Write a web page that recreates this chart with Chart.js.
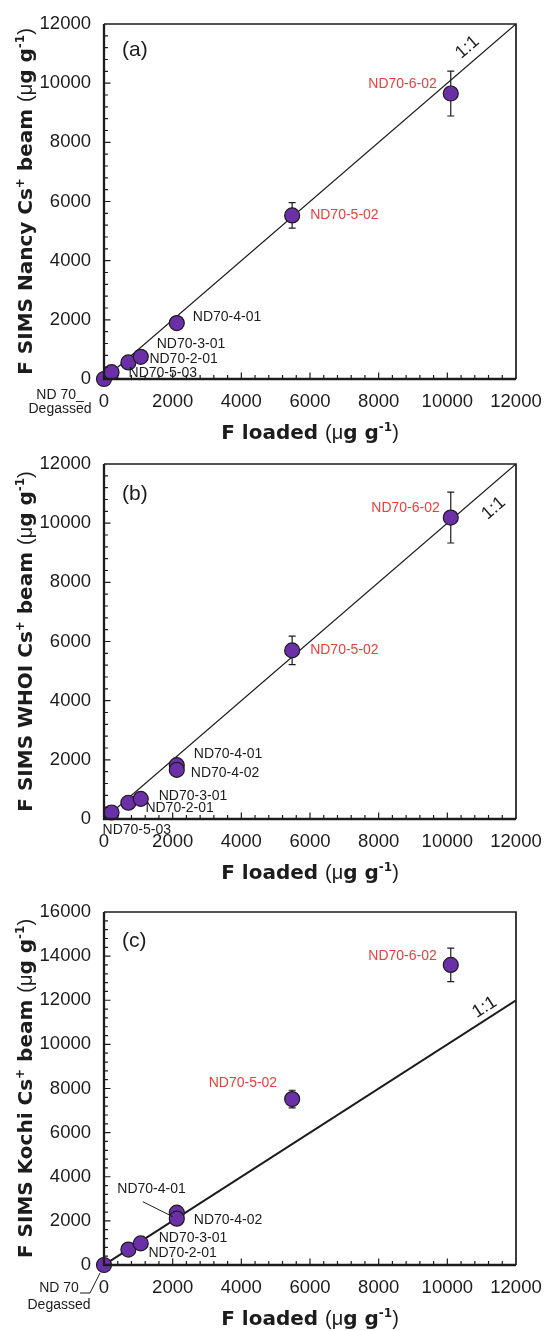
<!DOCTYPE html>
<html>
<head>
<meta charset="utf-8">
<script src="https://cdn.jsdelivr.net/npm/chart.js@4.4.0/dist/chart.umd.min.js"></script>
<style>
  html, body { margin: 0; padding: 0; background: #fff; }
  #page { position: relative; width: 545px; height: 1331px; overflow: hidden; }
  .panel { position: absolute; left: 0; width: 545px; }
</style>
</head>
<body>
<div id="page">
  <div class="panel" style="top:0;height:445px"><canvas id="chartA" width="545" height="445"></canvas></div>
  <div class="panel" style="top:445px;height:440px"><canvas id="chartB" width="545" height="440"></canvas></div>
  <div class="panel" style="top:885px;height:446px"><canvas id="chartC" width="545" height="446"></canvas></div>
</div>
<script>
// ---- data ----
const samplesA = ["ND 70_\nDegassed", "ND70-5-03", "ND70-2-01", "ND70-3-01", "ND70-4-01", "ND70-5-02", "ND70-6-02"];
const loadedA = [0, 220, 710, 1070, 2120, 5480, 10100];
const nancyValues = [0, 230, 560, 750, 1890, 5530, 9650];
const nancyErrors = [0, 0, 0, 0, 0, 430, 760];

const samplesB = ["ND70-5-03", "ND70-2-01", "ND70-3-01", "ND70-4-01", "ND70-4-02", "ND70-5-02", "ND70-6-02"];
const loadedB = [220, 710, 1070, 2120, 2120, 5480, 10100];
const whoiValues = [220, 550, 680, 1820, 1660, 5700, 10190];
const whoiErrors = [0, 0, 0, 0, 0, 480, 860];

const samplesC = ["ND 70\nDegassed", "ND70-2-01", "ND70-3-01", "ND70-4-01", "ND70-4-02", "ND70-5-02", "ND70-6-02"];
const loadedC = [0, 710, 1070, 2120, 2120, 5480, 10100];
const kochiValues = [0, 700, 980, 2370, 2100, 7520, 13600];
const kochiErrors = [0, 0, 0, 0, 0, 400, 760];

const oneToOne = [0, 12000];
const xTickValues = [0, 2000, 4000, 6000, 8000, 10000, 12000];
const yTickValuesAB = [0, 2000, 4000, 6000, 8000, 10000, 12000];
const yTickValuesC = [0, 2000, 4000, 6000, 8000, 10000, 12000, 14000, 16000];
const minorStep = 400;

const redSamples = ["ND70-5-02", "ND70-6-02"];

// ---- styling ----
const INK = "#1c1c1c";
const RED = "#e8403c";
const PURPLE = "#6b2fa8";
const SANS = "'Liberation Sans', Arial, sans-serif";
const TITLE = "'DejaVu Sans', sans-serif";

const drawRich = (ctx, parts, size) => {
  let total = 0;
  const widths = parts.map((p) => {
    ctx.font = `${p.bold ? "bold " : ""}${p.sup ? size * 0.6 : size}px ${p.bold ? TITLE : SANS}`;
    const w = ctx.measureText(p.t).width;
    total += w;
    return w;
  });
  let x = -total / 2;
  parts.forEach((p, i) => {
    ctx.font = `${p.bold ? "bold " : ""}${p.sup ? size * 0.6 : size}px ${p.bold ? TITLE : SANS}`;
    ctx.fillText(p.t, x, p.sup ? -size * 0.42 : 0);
    x += widths[i];
  });
};

const unitParts = [
  { t: "(", bold: false },
  { t: "\u03bc", bold: false },
  { t: "g g", bold: true },
  { t: "-1", bold: true, sup: true },
  { t: ")", bold: false }
];

const panelPlugin = {
  id: "panelDecor",
  beforeDatasetsDraw(chart) {
    const cfg = chart.options.panel;
    const { ctx } = chart;
    const xs = chart.scales.x;
    const ys = chart.scales.y;
    ctx.save();
    ctx.strokeStyle = INK;
    ctx.lineWidth = 1.2;
    cfg.x.forEach((xv, i) => {
      const e = cfg.err[i];
      if (!e) return;
      const px = xs.getPixelForValue(xv);
      const top = ys.getPixelForValue(cfg.y[i] + e);
      const bot = ys.getPixelForValue(cfg.y[i] - e);
      ctx.beginPath();
      ctx.moveTo(px, top); ctx.lineTo(px, bot);
      ctx.moveTo(px - 3.5, top); ctx.lineTo(px + 3.5, top);
      ctx.moveTo(px - 3.5, bot); ctx.lineTo(px + 3.5, bot);
      ctx.stroke();
    });
    ctx.restore();
  },
  afterDraw(chart) {
    const cfg = chart.options.panel;
    const { ctx, chartArea: a } = chart;
    const xs = chart.scales.x;
    const ys = chart.scales.y;
    ctx.save();

    // frame
    ctx.strokeStyle = INK;
    ctx.lineWidth = 1.7;
    ctx.beginPath();
    ctx.moveTo(a.left, a.top); ctx.lineTo(a.right, a.top); ctx.lineTo(a.right, a.bottom);
    ctx.stroke();
    ctx.lineWidth = 2.3;
    ctx.beginPath();
    ctx.moveTo(a.left, a.top); ctx.lineTo(a.left, a.bottom); ctx.lineTo(a.right, a.bottom);
    ctx.stroke();

    // inward ticks
    ctx.lineWidth = 1.2;
    ctx.beginPath();
    for (let v = minorStep; v < xs.max; v += minorStep) {
      const len = v % 2000 === 0 ? 6.5 : 4;
      const px = xs.getPixelForValue(v);
      ctx.moveTo(px, a.bottom); ctx.lineTo(px, a.bottom - len);
    }
    for (let v = minorStep; v < ys.max; v += minorStep) {
      const len = v % 2000 === 0 ? 6.5 : 4;
      const py = ys.getPixelForValue(v);
      ctx.moveTo(a.left, py); ctx.lineTo(a.left + len, py);
    }
    ctx.stroke();

    // panel letter
    ctx.fillStyle = INK;
    ctx.font = `21px ${SANS}`;
    ctx.textAlign = "left";
    ctx.textBaseline = "middle";
    ctx.fillText(cfg.letter, a.left + 18, a.top + cfg.letterDy);

    // 1:1 label
    const x1 = xs.getPixelForValue(oneToOne[0]);
    const y1 = ys.getPixelForValue(oneToOne[0]);
    const x2 = xs.getPixelForValue(oneToOne[1]);
    const y2 = ys.getPixelForValue(oneToOne[1]);
    const ang = Math.atan2(y2 - y1, x2 - x1);
    const bx = xs.getPixelForValue(cfg.unity.at);
    const by = ys.getPixelForValue(cfg.unity.at);
    ctx.translate(bx - Math.sin(ang) * cfg.unity.off, by + Math.cos(ang) * cfg.unity.off);
    ctx.rotate(ang);
    ctx.font = `18px ${SANS}`;
    ctx.textAlign = "center";
    ctx.fillText("1:1", 0, 0);
    ctx.setTransform(1, 0, 0, 1, 0, 0);

    // leader lines
    ctx.lineWidth = 1;
    (cfg.leaders || []).forEach((l) => {
      const px = xs.getPixelForValue(cfg.x[l.i]);
      const py = ys.getPixelForValue(cfg.y[l.i]);
      ctx.beginPath();
      l.path.forEach(([dx, dy], k) => (k ? ctx.lineTo(px + dx, py + dy) : ctx.moveTo(px + dx, py + dy)));
      ctx.stroke();
    });

    // sample labels
    ctx.font = `14px ${SANS}`;
    cfg.names.forEach((name, i) => {
      const p = cfg.place[i];
      const px = xs.getPixelForValue(cfg.x[i]);
      const py = ys.getPixelForValue(cfg.y[i]);
      ctx.fillStyle = redSamples.includes(name) ? RED : INK;
      ctx.textAlign = p.align || "left";
      name.split("\n").forEach((line, k) => {
        ctx.fillText(line, px + p.dx, py + p.dy + k * (p.gap || 15));
      });
    });

    // axis titles
    ctx.fillStyle = INK;
    ctx.textAlign = "left";
    ctx.textBaseline = "alphabetic";
    ctx.translate((a.left + a.right) / 2, a.bottom + 60);
    drawRich(ctx, [{ t: "F loaded ", bold: true }, ...unitParts], 20);
    ctx.setTransform(1, 0, 0, 1, 0, 0);
    ctx.translate(32, (a.top + a.bottom) / 2);
    ctx.rotate(-Math.PI / 2);
    drawRich(ctx, [
      { t: `F SIMS ${cfg.lab} Cs`, bold: true },
      { t: "+", bold: true, sup: true },
      { t: " beam ", bold: true },
      ...unitParts
    ], 20);
    ctx.restore();
  }
};

const makePanel = (id, panel) => {
  const tickFont = { family: SANS, size: 18.5 };
  return new Chart(document.getElementById(id), {
    type: "scatter",
    data: {
      datasets: [
        {
          data: panel.x.map((x, i) => ({ x, y: panel.y[i] })),
          pointRadius: 7.5,
          pointHoverRadius: 7.5,
          pointBackgroundColor: PURPLE,
          pointBorderColor: INK,
          pointBorderWidth: 1.2,
          clip: false
        },
        {
          type: "line",
          data: oneToOne.map((v) => ({ x: v, y: v })),
          borderColor: INK,
          borderWidth: panel.lineWidth,
          pointRadius: 0,
          fill: false
        }
      ]
    },
    options: {
      responsive: false,
      animation: false,
      devicePixelRatio: 1,
      panel,
      layout: { padding: { top: panel.top, right: 29, left: 0, bottom: 0 } },
      plugins: { legend: { display: false }, tooltip: { enabled: false } },
      scales: {
        x: {
          type: "linear",
          min: 0,
          max: 12000,
          afterBuildTicks: (s) => { s.ticks = xTickValues.map((value) => ({ value })); },
          afterFit: (s) => { s.height = panel.bottomSpace; s.paddingRight = 0; s.paddingLeft = 0; },
          grid: { display: false, drawTicks: false },
          border: { display: false },
          ticks: { font: tickFont, color: INK, padding: 12, maxRotation: 0, autoSkip: false, callback: (v) => String(v) }
        },
        y: {
          type: "linear",
          min: 0,
          max: panel.yMax,
          afterBuildTicks: (s) => { s.ticks = panel.yTicks.map((value) => ({ value })); },
          afterFit: (s) => { s.width = 104; s.paddingTop = 0; s.paddingBottom = 0; },
          grid: { display: false, drawTicks: false },
          border: { display: false },
          ticks: { font: tickFont, color: INK, padding: 13, autoSkip: false, callback: (v) => String(v) }
        }
      }
    },
    plugins: [panelPlugin]
  });
};

makePanel("chartA", {
  letter: "(a)", letterDy: 26, lab: "Nancy", top: 24, bottomSpace: 66, lineWidth: 1.3,
  x: loadedA, y: nancyValues, err: nancyErrors, names: samplesA,
  yMax: 12000, yTicks: yTickValuesAB,
  unity: { at: 10850, off: -14 },
  place: [
    { dx: -44, dy: 16, align: "center", gap: 14 },
    { dx: 17, dy: 1 },
    { dx: 21, dy: -3 },
    { dx: 16, dy: -13 },
    { dx: 16, dy: -6 },
    { dx: 18, dy: 0 },
    { dx: -14, dy: -9, align: "right" }
  ]
});

makePanel("chartB", {
  letter: "(b)", letterDy: 30, lab: "WHOI", top: 19, bottomSpace: 66, lineWidth: 1.3,
  x: loadedB, y: whoiValues, err: whoiErrors, names: samplesB,
  yMax: 12000, yTicks: yTickValuesAB,
  unity: { at: 10990, off: 19 },
  place: [
    { dx: -9, dy: 18 },
    { dx: 17, dy: 5 },
    { dx: 18, dy: -3 },
    { dx: 17, dy: -11 },
    { dx: 14, dy: 3 },
    { dx: 18, dy: 0 },
    { dx: -11, dy: -9, align: "right" }
  ]
});

makePanel("chartC", {
  letter: "(c)", letterDy: 29, lab: "Kochi", top: 27, bottomSpace: 66, lineWidth: 2,
  x: loadedC, y: kochiValues, err: kochiErrors, names: samplesC,
  yMax: 16000, yTicks: yTickValuesC,
  unity: { at: 11260, off: -11 },
  leaders: [
    { i: 0, path: [[-24, 28], [-14, 28], [-4, 8]] },
    { i: 3, path: [[-34, -11], [-4, 4]] }
  ],
  place: [
    { dx: -45, dy: 23, align: "center", gap: 17 },
    { dx: 20, dy: 4 },
    { dx: 18, dy: -5 },
    { dx: 9, dy: -24, align: "right" },
    { dx: 17, dy: 1 },
    { dx: -15, dy: -16, align: "right" },
    { dx: -14, dy: -9, align: "right" }
  ]
});
</script>
</body>
</html>
